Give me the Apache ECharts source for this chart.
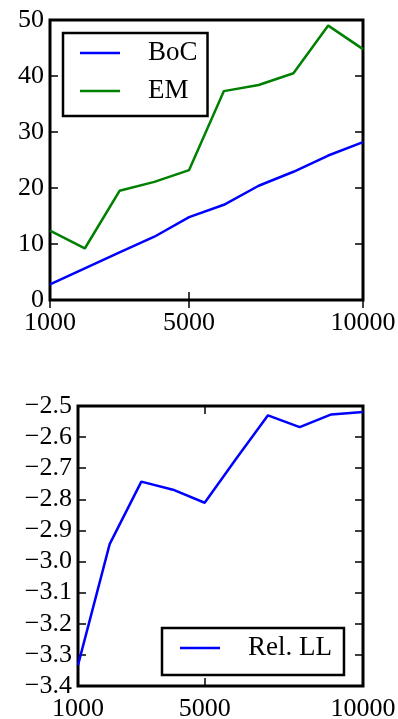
<!DOCTYPE html>
<html>
<head>
<meta charset="utf-8">
<script src="https://cdn.jsdelivr.net/npm/echarts@6/dist/echarts.min.js"></script>
<style>
  html, body { margin: 0; padding: 0; background: #fff; }
  #chart { width: 398px; height: 719px; }
</style>
</head>
<body>
<div id="chart"></div>
<script>
// sample sizes on the x axis
const sizes = [1000, 2000, 3000, 4000, 5000, 6000, 7000, 8000, 9000, 10000]
const xTicks = [1000, 5000, 10000]

// top panel
const boc = [2.8, 5.65, 8.5, 11.3, 14.8, 17.0, 20.4, 22.9, 25.8, 28.2]
const em = [12.4, 9.2, 19.5, 21.1, 23.2, 37.3, 38.4, 40.5, 49.0, 44.8]

// bottom panel
const relLL = [-3.333, -2.944, -2.743, -2.769, -2.811, -2.669, -2.530, -2.568, -2.527, -2.519]

const font = 'Liberation Serif'
const toPairs = (ys) => sizes.map((x, i) => [x, ys[i]])

const chart = echarts.init(document.getElementById('chart'))

// axis helpers: ticks pointing inwards on all four sides, like the matplotlib box
const xAx = (grid, pos, labels) => ({
  type: 'value', gridIndex: grid, position: pos, min: 1000, max: 10000,
  axisLine: {show: false}, splitLine: {show: false},
  axisTick: {show: true, inside: true, length: 8, customValues: xTicks, lineStyle: {color: '#000', width: 1.5}},
  axisLabel: {show: labels, customValues: xTicks, margin: 10, color: '#000', fontFamily: font, fontSize: 26,
    formatter: (v) => String(v)}
})
const yAx = (grid, pos, labels, min, max, step) => ({
  type: 'value', gridIndex: grid, position: pos, min: min, max: max, interval: step,
  axisLine: {show: false}, splitLine: {show: false},
  axisTick: {show: true, inside: true, length: 8, lineStyle: {color: '#000', width: 1.5}},
  axisLabel: {
    show: labels, margin: 6, color: '#000', fontFamily: font, fontSize: 26,
    formatter: (v) => step < 1 ? v.toFixed(1).replace('-', '\u2212') : String(v)
  }
})

const legendBase = {
  orient: 'vertical',
  icon: 'rect',
  itemWidth: 40,
  itemHeight: 2.5,
  itemGap: 8,
  borderColor: '#000',
  borderWidth: 2.5,
  borderRadius: 0,
  backgroundColor: '#fff',
  textStyle: {color: '#000', fontFamily: font, fontSize: 27, lineHeight: 30, padding: [0, 0, 0, 23]}
}

chart.setOption({
  animation: false,
  grid: [
    {left: 50, right: 35, top: 20, height: 280, outerBoundsMode: 'none', show: true, borderColor: '#000', borderWidth: 3},
    {left: 78, right: 35, top: 406, height: 280, outerBoundsMode: 'none', show: true, borderColor: '#000', borderWidth: 3}
  ],
  xAxis: [xAx(0, 'bottom', true), xAx(0, 'top', false), xAx(1, 'bottom', true), xAx(1, 'top', false)],
  yAxis: [
    yAx(0, 'left', true, 0, 50, 10), yAx(0, 'right', false, 0, 50, 10),
    yAx(1, 'left', true, -3.4, -2.5, 0.1), yAx(1, 'right', false, -3.4, -2.5, 0.1)
  ],
  legend: [
    Object.assign({}, legendBase, {data: ['BoC', 'EM'], left: 63, top: 33, padding: [5, 10, 10, 17]}),
    Object.assign({}, legendBase, {data: ['Rel. LL'], left: 162, top: 628, padding: [5, 12, 12, 18]})
  ],
  series: [
    {name: 'BoC', type: 'line', xAxisIndex: 0, yAxisIndex: 0, data: toPairs(boc), symbol: 'none',
      lineStyle: {color: '#0000ff', width: 2.5}, itemStyle: {color: '#0000ff'}},
    {name: 'EM', type: 'line', xAxisIndex: 0, yAxisIndex: 0, data: toPairs(em), symbol: 'none',
      lineStyle: {color: '#008000', width: 2.5}, itemStyle: {color: '#008000'}},
    {name: 'Rel. LL', type: 'line', xAxisIndex: 2, yAxisIndex: 2, data: toPairs(relLL), symbol: 'none',
      lineStyle: {color: '#0000ff', width: 2.5}, itemStyle: {color: '#0000ff'}}
  ]
})
</script>
</body>
</html>
